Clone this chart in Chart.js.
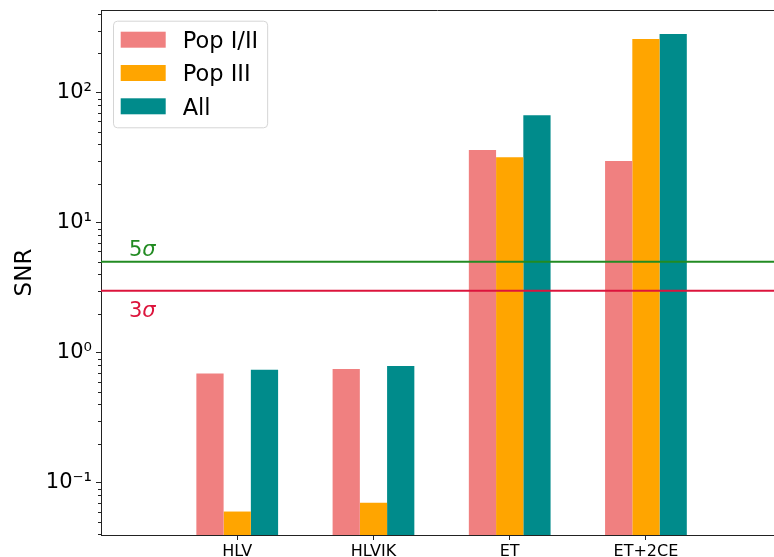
<!DOCTYPE html>
<html>
<head>
<meta charset="utf-8">
<script src="https://cdn.jsdelivr.net/npm/chart.js@4.4.0/dist/chart.umd.min.js"></script>
<style>
  html, body { margin: 0; padding: 0; background: #ffffff; overflow: hidden; }
  #wrap { width: 774px; height: 557px; position: relative; }
</style>
</head>
<body>
<div id="wrap"><canvas id="snr" width="774" height="557"></canvas></div>
<script>
// Detector networks on the x axis
const categories = ['HLV', 'HLVIK', 'ET', 'ET+2CE'];

// Series names and SNR per network
const seriesNames = ['Pop I/II', 'Pop III', 'All'];
const snrPopI_II = [0.69, 0.75, 36.2, 29.8];
const snrPopIII = [0.06, 0.07, 31.8, 259];
const snrAll = [0.74, 0.79, 67, 283];

// Detection thresholds (horizontal reference lines)
const thresholdLabels = ['5σ', '3σ'];
const thresholdValues = [5, 3];

// Decades that carry a tick label on the log axis
const yTickDecades = [-1, 0, 1, 2];

const FONT = "'DejaVu Sans', 'Liberation Sans', sans-serif";
const seriesColors = ['#F08080', '#FFA500', '#008B8B'];
const thresholdColors = ['#228B22', '#DC143C'];
const axisColor = '#222222';

// axis ranges
const X_MIN = -1, X_MAX = 3.94;
const Y_MIN = 0.0396, Y_MAX = 432;

const seriesValues = [snrPopI_II, snrPopIII, snrAll];

const barDatasets = seriesNames.map((name, i) => ({
  type: 'bar',
  label: name,
  data: categories.map((c, j) => ({ x: j, y: seriesValues[i][j] })),
  backgroundColor: seriesColors[i],
  borderWidth: 0,
  categoryPercentage: 0.6,
  barPercentage: 1.0,
  order: 2
}));

const lineDatasets = thresholdValues.map((v, i) => ({
  type: 'line',
  label: thresholdLabels[i],
  data: [{ x: X_MIN, y: v }, { x: X_MAX, y: v }],
  borderColor: thresholdColors[i],
  borderWidth: 2,
  pointRadius: 0,
  fill: false,
  order: 1
}));

const SUP = { '-': '⁻', '0': '⁰', '1': '¹', '2': '²', '3': '³', '4': '⁴', '5': '⁵', '6': '⁶', '7': '⁷', '8': '⁸', '9': '⁹' };
function powerLabel(exp) {
  return '10' + String(exp).split('').map(ch => SUP[ch]).join('');
}

// Log ticks: every k*10^n inside the range, labelled only on listed decades
function logTicks() {
  const out = [];
  for (let n = -3; n <= 3; n++) {
    for (let k = 1; k <= 9; k++) {
      const v = k * Math.pow(10, n);
      if (v >= Y_MIN && v <= Y_MAX) out.push({ value: v, major: k === 1 && yTickDecades.includes(n) });
    }
  }
  return out;
}

// Extra drawing: top spine, minor ticks, threshold captions, framed legend
const decorPlugin = {
  id: 'decor',
  afterDatasetsDraw(chart) {
    const ctx = chart.ctx;
    const area = chart.chartArea;
    const ys = chart.scales.y;
    const opts = chart.options.plugins.decor;
    ctx.save();
    chart.data.datasets.forEach((ds) => {
      if (ds.type !== 'line') return;
      const k = lineDatasets.indexOf(ds);
      const yPix = ys.getPixelForValue(ds.data[0].y) + opts.captionOffsets[k];
      const xPix = area.left + opts.captionX;
      const head = ds.label.slice(0, 1);
      const tail = ds.label.slice(1);
      ctx.fillStyle = ds.borderColor;
      ctx.textBaseline = 'alphabetic';
      ctx.textAlign = 'left';
      ctx.font = `${opts.captionSize}px ${FONT}`;
      ctx.fillText(head, xPix, yPix);
      const w = ctx.measureText(head).width;
      ctx.font = `italic ${opts.captionSize}px ${FONT}`;
      ctx.fillText(tail, xPix + w, yPix);
    });
    ctx.restore();
  },
  afterDraw(chart) {
    const ctx = chart.ctx;
    const area = chart.chartArea;
    const ys = chart.scales.y;
    const opts = chart.options.plugins.decor;
    ctx.save();
    // top spine
    ctx.strokeStyle = axisColor;
    ctx.lineWidth = 1;
    ctx.beginPath();
    ctx.moveTo(area.left, Math.round(area.top) + 0.5);
    ctx.lineTo(area.right, Math.round(area.top) + 0.5);
    ctx.stroke();
    // minor ticks on the log axis
    ys.ticks.forEach(t => {
      if (t.major) return;
      const y = Math.round(ys.getPixelForValue(t.value)) + 0.5;
      ctx.beginPath();
      ctx.moveTo(area.left - 3, y);
      ctx.lineTo(area.left, y);
      ctx.stroke();
    });
    // legend
    const bars = chart.data.datasets.filter(d => d.type === 'bar');
    const fs = opts.legendSize;
    ctx.font = `${fs}px ${FONT}`;
    const maxW = Math.max(...bars.map(d => ctx.measureText(d.label).width));
    const bx = area.left + 12, by = area.top + 10.7;
    const hx = bx + 7.7, hw = 45, hh = 16, gap = 33.3, firstTop = by + 11;
    const tx = hx + hw + 17;
    const bw = tx - bx + maxW + 9;
    const bh = 106.6;
    ctx.beginPath();
    if (ctx.roundRect) ctx.roundRect(bx + 0.5, by + 0.5, bw, bh, 4); else ctx.rect(bx + 0.5, by + 0.5, bw, bh);
    ctx.fillStyle = 'rgba(255,255,255,0.8)';
    ctx.fill();
    ctx.strokeStyle = '#d5d5d5';
    ctx.lineWidth = 1;
    ctx.stroke();
    bars.forEach((d, i) => {
      const top = firstTop + i * gap;
      ctx.fillStyle = d.backgroundColor;
      ctx.fillRect(hx, top, hw, hh);
      ctx.fillStyle = '#000';
      ctx.textBaseline = 'alphabetic';
      ctx.textAlign = 'left';
      ctx.fillText(d.label, tx, top + hh / 2 + fs * 0.729 / 2);
    });
    ctx.restore();
  }
};

new Chart(document.getElementById('snr'), {
  type: 'bar',
  data: { datasets: [...barDatasets, ...lineDatasets] },
  plugins: [decorPlugin],
  options: {
    responsive: false,
    devicePixelRatio: 1,
    animation: false,
    events: [],
    layout: { padding: { top: 10, left: 0, right: 0, bottom: 0 } },
    plugins: {
      legend: { display: false },
      tooltip: { enabled: false },
      decor: { captionX: 28, captionOffsets: [-6, 26], captionSize: 21, legendSize: 22.5 }
    },
    scales: {
      x: {
        type: 'linear',
        min: X_MIN,
        max: X_MAX,
        offset: false,
        afterBuildTicks: s => { s.ticks = categories.map((c, i) => ({ value: i })); },
        afterFit: s => { s.height = 22; s.paddingLeft = 0; s.paddingRight = 0; },
        border: { display: true, color: axisColor, width: 1 },
        grid: { display: true, drawOnChartArea: false, drawTicks: true, tickLength: 5, tickColor: axisColor, offset: false },
        ticks: {
          autoSkip: false, maxRotation: 0, padding: 2, color: '#000',
          font: { family: FONT, size: 16 },
          callback: v => categories[v] !== undefined ? categories[v] : ''
        }
      },
      y: {
        type: 'logarithmic',
        min: Y_MIN,
        max: Y_MAX,
        afterBuildTicks: s => { s.ticks = logTicks(); },
        afterFit: s => { s.width = 101; s.paddingTop = 0; s.paddingBottom = 0; },
        border: { display: true, color: axisColor, width: 1 },
        grid: {
          display: true, drawOnChartArea: false, drawTicks: true, tickLength: 5,
          tickColor: c => (c.tick && c.tick.major) ? axisColor : 'rgba(0,0,0,0)'
        },
        ticks: {
          autoSkip: false, padding: 4, color: '#000',
          font: { family: FONT, size: 21 },
          callback: (v, i, ticks) => ticks[i].major ? powerLabel(Math.round(Math.log10(v))) : ''
        },
        title: {
          display: true, text: 'SNR', color: '#000',
          font: { family: FONT, size: 23 },
          padding: { top: 11, bottom: 0 }
        }
      }
    }
  }
});
</script>
</body>
</html>
